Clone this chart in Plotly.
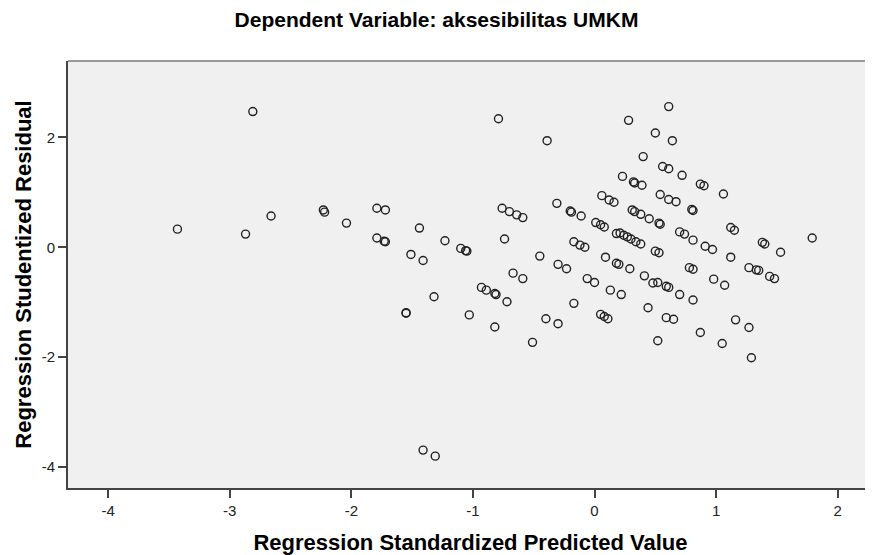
import plotly.graph_objects as go

pred = [-3.43, -2.87, -2.81, -2.66, -2.23, -2.22, -2.04, -1.79, -1.72, -1.79, -1.73, -1.72,
        -1.44, -1.51, -1.41, -1.23, -1.10, -1.06, -1.05, -1.32, -1.55, -1.55, -1.41, -1.31,
        -1.03, -0.93, -0.89, -0.82, -0.81, -0.72, -0.82, -0.51, -0.40, -0.30, -0.17, -0.79,
        -0.39, -0.76, -0.70, -0.64, -0.59, -0.74, -0.67, -0.59, -0.45, -0.30, -0.23, -0.31,
        -0.20, -0.19, -0.11, -0.17, -0.12, -0.08, -0.06, 0.00,
        0.61, 0.28, 0.50, 0.64, 0.40, 0.56, 0.61, 0.72, 0.23, 0.32, 0.33, 0.39, 0.87, 0.90,
        1.06, 0.54, 0.61, 0.67, 0.06, 0.12, 0.16, 0.80, 0.81, 0.31, 0.33, 0.38, 0.45, 0.53,
        0.54, 0.01, 0.05, 0.08, 0.21, 0.24, 0.27, 0.30, 0.34, 0.38, 0.18, 0.70, 0.74, 0.81,
        0.91, 0.97, 1.12, 1.15, 1.38, 1.40, 1.53, 1.79, 1.12, 1.27, 1.33, 1.35, 1.44, 1.48,
        0.78, 0.81, 0.98, 1.07, 0.50, 0.53, 0.09, 0.18, 0.20, 0.29, 0.41, 0.48, 0.52, 0.59,
        0.61, 0.70, 0.81, 0.13, 0.22, 0.05, 0.08, 0.11, 0.44, 0.59, 0.65, 0.52, 0.87, 1.05,
        1.16, 1.27, 1.29]

resid = [0.33, 0.24, 2.47, 0.57, 0.68, 0.64, 0.44, 0.71, 0.68, 0.17, 0.11, 0.10,
         0.35, -0.13, -0.24, 0.12, -0.02, -0.06, -0.07, -0.90, -1.19, -1.20, -3.69, -3.80,
         -1.23, -0.73, -0.78, -0.84, -0.86, -0.99, -1.45, -1.73, -1.30, -1.39, -1.02, 2.34,
         1.94, 0.71, 0.65, 0.59, 0.54, 0.15, -0.47, -0.57, -0.16, -0.31, -0.39, 0.80,
         0.66, 0.64, 0.57, 0.10, 0.04, 0.00, -0.57, -0.64,
         2.56, 2.31, 2.08, 1.94, 1.65, 1.47, 1.43, 1.31, 1.29, 1.19, 1.17, 1.13, 1.15, 1.12,
         0.97, 0.96, 0.87, 0.83, 0.94, 0.86, 0.82, 0.69, 0.67, 0.68, 0.65, 0.60, 0.52, 0.44,
         0.42, 0.45, 0.41, 0.37, 0.26, 0.22, 0.19, 0.15, 0.10, 0.06, 0.25, 0.28, 0.24, 0.13,
         0.02, -0.04, 0.36, 0.31, 0.09, 0.06, -0.09, 0.17, -0.18, -0.37, -0.41, -0.42, -0.53, -0.57,
         -0.37, -0.40, -0.58, -0.69, -0.07, -0.10, -0.18, -0.29, -0.31, -0.39, -0.52, -0.65, -0.64, -0.71,
         -0.73, -0.86, -0.96, -0.78, -0.86, -1.22, -1.26, -1.30, -1.10, -1.28, -1.31, -1.70, -1.55, -1.75,
         -1.32, -1.46, -2.01]

x_ticks = [-4, -3, -2, -1, 0, 1, 2]
y_ticks = [-4, -2, 0, 2]

title_text = "Dependent Variable: aksesibilitas UMKM"
x_title = "Regression Standardized Predicted Value"
y_title = "Regression Studentized Residual"

font_family = "Liberation Sans, Arial, sans-serif"

fig = go.Figure()
fig.add_trace(go.Scatter(
    x=pred, y=resid, mode="markers",
    marker=dict(symbol="circle-open", size=8, color="#222222", line=dict(width=1.4, color="#222222")),
    showlegend=False, hoverinfo="skip",
))

W, H = 865, 547
fig.update_layout(
    width=W, height=H,
    margin=dict(l=60, r=0, t=53, b=67, autoexpand=False),
    paper_bgcolor="white",
    plot_bgcolor="#f0f0f0",
    font=dict(family=font_family, color="#222222"),
    title=dict(text="<b>" + title_text + "</b>", x=(436.5 - 8) / W, xref="container", xanchor="center",
               y=1 - 4 / H, yref="container", yanchor="top",
               font=dict(size=21, family=font_family, color="#000000")),
    xaxis=dict(
        range=[-4.33, 2.29], tickvals=x_ticks, ticktext=[str(v) for v in x_ticks],
        showgrid=False, zeroline=False, automargin=False,
        showline=True, linecolor="#444444", linewidth=2,
        ticks="outside", ticklen=8, tickwidth=1.5, tickcolor="#444444",
        tickfont=dict(size=15, color="#222222"),
        title=dict(text="<b>" + x_title + "</b>", font=dict(size=22, color="#000000"), standoff=17),
    ),
    yaxis=dict(
        range=[-4.38, 3.39], tickvals=y_ticks, ticktext=[str(v) for v in y_ticks],
        showgrid=False, zeroline=False, automargin=False,
        showline=True, linecolor="#444444", linewidth=2,
        ticks="outside", ticklen=8, tickwidth=1.5, tickcolor="#444444",
        tickfont=dict(size=15, color="#222222"),
        title=dict(text="<b>" + y_title + "</b>", font=dict(size=22, color="#000000"), standoff=4),
    ),
    shapes=[dict(type="line", xref="paper", yref="paper", x0=0, x1=1, y0=1, y1=1,
                 line=dict(color="#999999", width=2))],
)

fig.write_html("out.html")
